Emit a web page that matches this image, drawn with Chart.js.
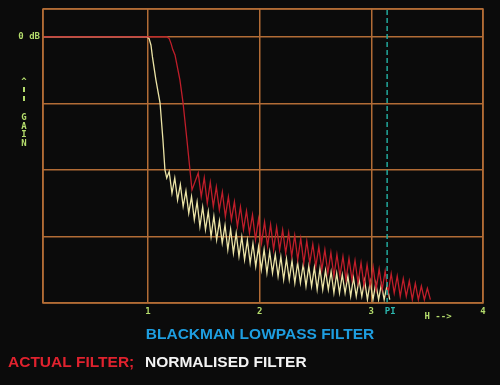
<!DOCTYPE html>
<html>
<head>
<meta charset="utf-8">
<script src="https://cdn.jsdelivr.net/npm/chart.js@4.4.1/dist/chart.umd.min.js"></script>
<style>
html, body { margin: 0; padding: 0; background: #0b0b0b; }
#wrap { position: relative; width: 500px; height: 385px; }
</style>
</head>
<body>
<div id="wrap"><canvas id="filterChart" width="500" height="385"></canvas></div>
<script>
// frequency axis (pi marked) and gain in dB (20 dB per division)
const xTicks = [1, 2, 3, 4];
const piMark = 3.1416;

// normalised filter: passband + transition
const normEdgeX = [0.06, 0.991, 1.010, 1.027, 1.040, 1.071, 1.108, 1.134, 1.152, 1.168];
const normEdgeDb = [0, 0, -0.5, -2.5, -6.0, -12.9, -19.8, -31.0, -40.0, -42.4];
// normalised filter: sidelobes (peak, null, peak, null ...)
const normLobeX = [1.19, 1.215, 1.24, 1.265, 1.29, 1.315, 1.34, 1.365, 1.39, 1.415, 1.44, 1.465, 1.49, 1.515,
  1.54, 1.565, 1.59, 1.615, 1.64, 1.665, 1.69, 1.715, 1.74, 1.765, 1.79, 1.815, 1.84, 1.865, 1.89, 1.915, 1.94,
  1.965, 1.99, 2.015, 2.04, 2.065, 2.09, 2.115, 2.14, 2.165, 2.19, 2.215, 2.24, 2.265, 2.29, 2.315, 2.34, 2.365,
  2.39, 2.415, 2.44, 2.465, 2.49, 2.515, 2.54, 2.565, 2.59, 2.615, 2.64, 2.665, 2.69, 2.715, 2.74, 2.765, 2.79,
  2.815, 2.84, 2.865, 2.89, 2.915, 2.94, 2.965, 2.99, 3.015, 3.04, 3.065, 3.09, 3.115, 3.14, 3.165];
const normLobeDb = [-40.5, -47, -42.4, -49, -44.4, -51, -46.3, -53, -48.0, -55, -49.6, -57, -51.1, -58,
  -52.5, -60, -53.9, -61, -55.3, -62, -56.6, -64, -57.8, -65, -59.0, -66, -60.1, -67, -61.1, -68, -62.1,
  -69, -63.1, -70, -63.9, -71, -64.6, -71, -65.4, -72, -66.1, -73, -66.7, -73, -67.3, -74, -67.9, -74,
  -68.4, -75, -68.9, -75, -69.3, -76, -69.7, -76, -70.2, -76, -70.6, -77, -71.1, -77, -71.5, -77, -71.9,
  -78, -72.4, -78, -72.8, -78, -73.2, -79, -73.6, -79, -74.0, -79, -74.4, -79, -74.8, -79];

// actual filter: passband + transition
const actEdgeX = [0.06, 1.170, 1.190, 1.207, 1.222, 1.242, 1.286, 1.314, 1.349, 1.376, 1.394];
const actEdgeDb = [0, 0, -0.5, -2.0, -3.8, -5.4, -12.9, -19.8, -31.0, -40.0, -46.0];
// actual filter: sidelobes
const actLobeX = [1.45, 1.477, 1.504, 1.531, 1.558, 1.585, 1.612, 1.639, 1.666, 1.693, 1.72, 1.747, 1.774,
  1.801, 1.828, 1.855, 1.882, 1.909, 1.936, 1.963, 1.99, 2.017, 2.044, 2.071, 2.098, 2.125, 2.152, 2.179,
  2.206, 2.233, 2.26, 2.287, 2.314, 2.341, 2.368, 2.395, 2.422, 2.449, 2.476, 2.503, 2.53, 2.557, 2.584,
  2.611, 2.638, 2.665, 2.692, 2.719, 2.746, 2.773, 2.8, 2.827, 2.854, 2.881, 2.908, 2.935, 2.962, 2.989,
  3.016, 3.043, 3.07, 3.097, 3.124, 3.151, 3.178, 3.205, 3.232, 3.259, 3.286, 3.313, 3.34, 3.367, 3.394,
  3.421, 3.448, 3.475, 3.502, 3.529];
const actLobeDb = [-40.9, -48, -42.3, -50, -43.7, -51, -45.1, -52, -46.6, -54, -48.1, -55, -49.6, -57,
  -51.1, -58, -52.3, -59, -53.5, -61, -54.7, -62, -55.6, -63, -56.4, -64, -57.2, -64, -58.0, -65,
  -58.9, -66, -59.7, -67, -60.6, -68, -61.4, -68, -62.3, -69, -63.1, -70, -64.0, -71, -64.8, -72,
  -65.4, -72, -66.0, -73, -66.6, -73, -67.2, -74, -67.9, -75, -68.5, -75, -69.1, -76, -69.8, -76,
  -70.4, -77, -71.2, -77, -71.9, -78, -72.7, -78, -73.4, -79, -74.1, -79, -74.9, -79, -75.6, -79];

function toPoints(xs, ys) {
  return xs.map((x, i) => ({ x: x, y: ys[i] }));
}

const gridColor = '#b26c36';
const labelGreen = '#b4dc6c';

const labelPlugin = {
  id: 'labels',
  afterDraw(chart) {
    const ctx = chart.ctx;
    const xs = chart.scales.x, ys = chart.scales.y;
    const area = chart.chartArea;
    ctx.save();
    // outer frame
    ctx.strokeStyle = gridColor;
    ctx.lineWidth = 1.5;
    ctx.strokeRect(area.left, area.top, area.right - area.left, area.bottom - area.top);

    ctx.font = 'bold 9px "DejaVu Sans Mono"';
    ctx.fillStyle = labelGreen;
    ctx.textBaseline = 'middle';
    ctx.textAlign = 'right';
    ctx.fillText('0 dB', area.left - 3, ys.getPixelForValue(0));

    // vertical "GAIN" label with arrow
    ctx.textAlign = 'center';
    ctx.fillText('^', 24, 82);
    ctx.fillRect(23, 87, 2, 5);
    ctx.fillRect(23, 96, 2, 5);
    ['G', 'A', 'I', 'N'].forEach((c, i) => {
      ctx.fillText(c, 24, 118 + i * 8.5);
    });

    xTicks.forEach(t => {
      ctx.fillText(String(t), xs.getPixelForValue(t), area.bottom + 9);
    });
    ctx.fillStyle = '#2cb8b0';
    ctx.fillText('PI', xs.getPixelForValue(piMark) + 3, area.bottom + 9);
    ctx.fillStyle = labelGreen;
    ctx.fillText('H -->', 438, area.bottom + 14);

    // titles
    ctx.font = 'bold 15.5px "Liberation Sans", Arial, sans-serif';
    ctx.textAlign = 'center';
    ctx.fillStyle = '#1e9ee0';
    ctx.fillText('BLACKMAN LOWPASS FILTER', 260, 335);
    ctx.textAlign = 'left';
    ctx.fillStyle = '#e0222e';
    ctx.fillText('ACTUAL FILTER;', 8, 363);
    ctx.fillStyle = '#f4f4f4';
    ctx.fillText('NORMALISED FILTER', 145, 363);
    ctx.restore();
  }
};

const ctx = document.getElementById('filterChart').getContext('2d');
new Chart(ctx, {
  type: 'line',
  data: {
    datasets: [
      {
        label: 'pi',
        data: [{ x: piMark, y: -80 }, { x: piMark, y: 8.4 }],
        borderColor: '#22a89c',
        borderWidth: 1.5,
        borderDash: [5, 3],
        pointRadius: 0
      },
      {
        label: 'Actual filter',
        data: toPoints(actEdgeX.concat(actLobeX), actEdgeDb.concat(actLobeDb)),
        borderColor: '#c01e2a',
        borderWidth: 1.3,
        pointRadius: 0,
        tension: 0
      },
      {
        label: 'Normalised filter',
        data: toPoints(normEdgeX.concat(normLobeX), normEdgeDb.concat(normLobeDb)),
        borderColor: '#ece4a6',
        borderWidth: 1.3,
        pointRadius: 0,
        tension: 0
      }
    ]
  },
  options: {
    responsive: false,
    animation: false,
    devicePixelRatio: 1,
    layout: { padding: { left: 43, top: 9, right: 17, bottom: 82 } },
    plugins: { legend: { display: false }, tooltip: { enabled: false } },
    scales: {
      x: {
        type: 'linear', min: 0.06, max: 4,
        ticks: { display: false, stepSize: 1 },
        grid: { color: gridColor, lineWidth: 1.5, drawTicks: false },
        border: { display: false }
      },
      y: {
        type: 'linear', min: -80, max: 8.4,
        ticks: { display: false, stepSize: 20 },
        grid: { color: gridColor, lineWidth: 1.5, drawTicks: false },
        border: { display: false }
      }
    }
  },
  plugins: [labelPlugin]
});
</script>
</body>
</html>
